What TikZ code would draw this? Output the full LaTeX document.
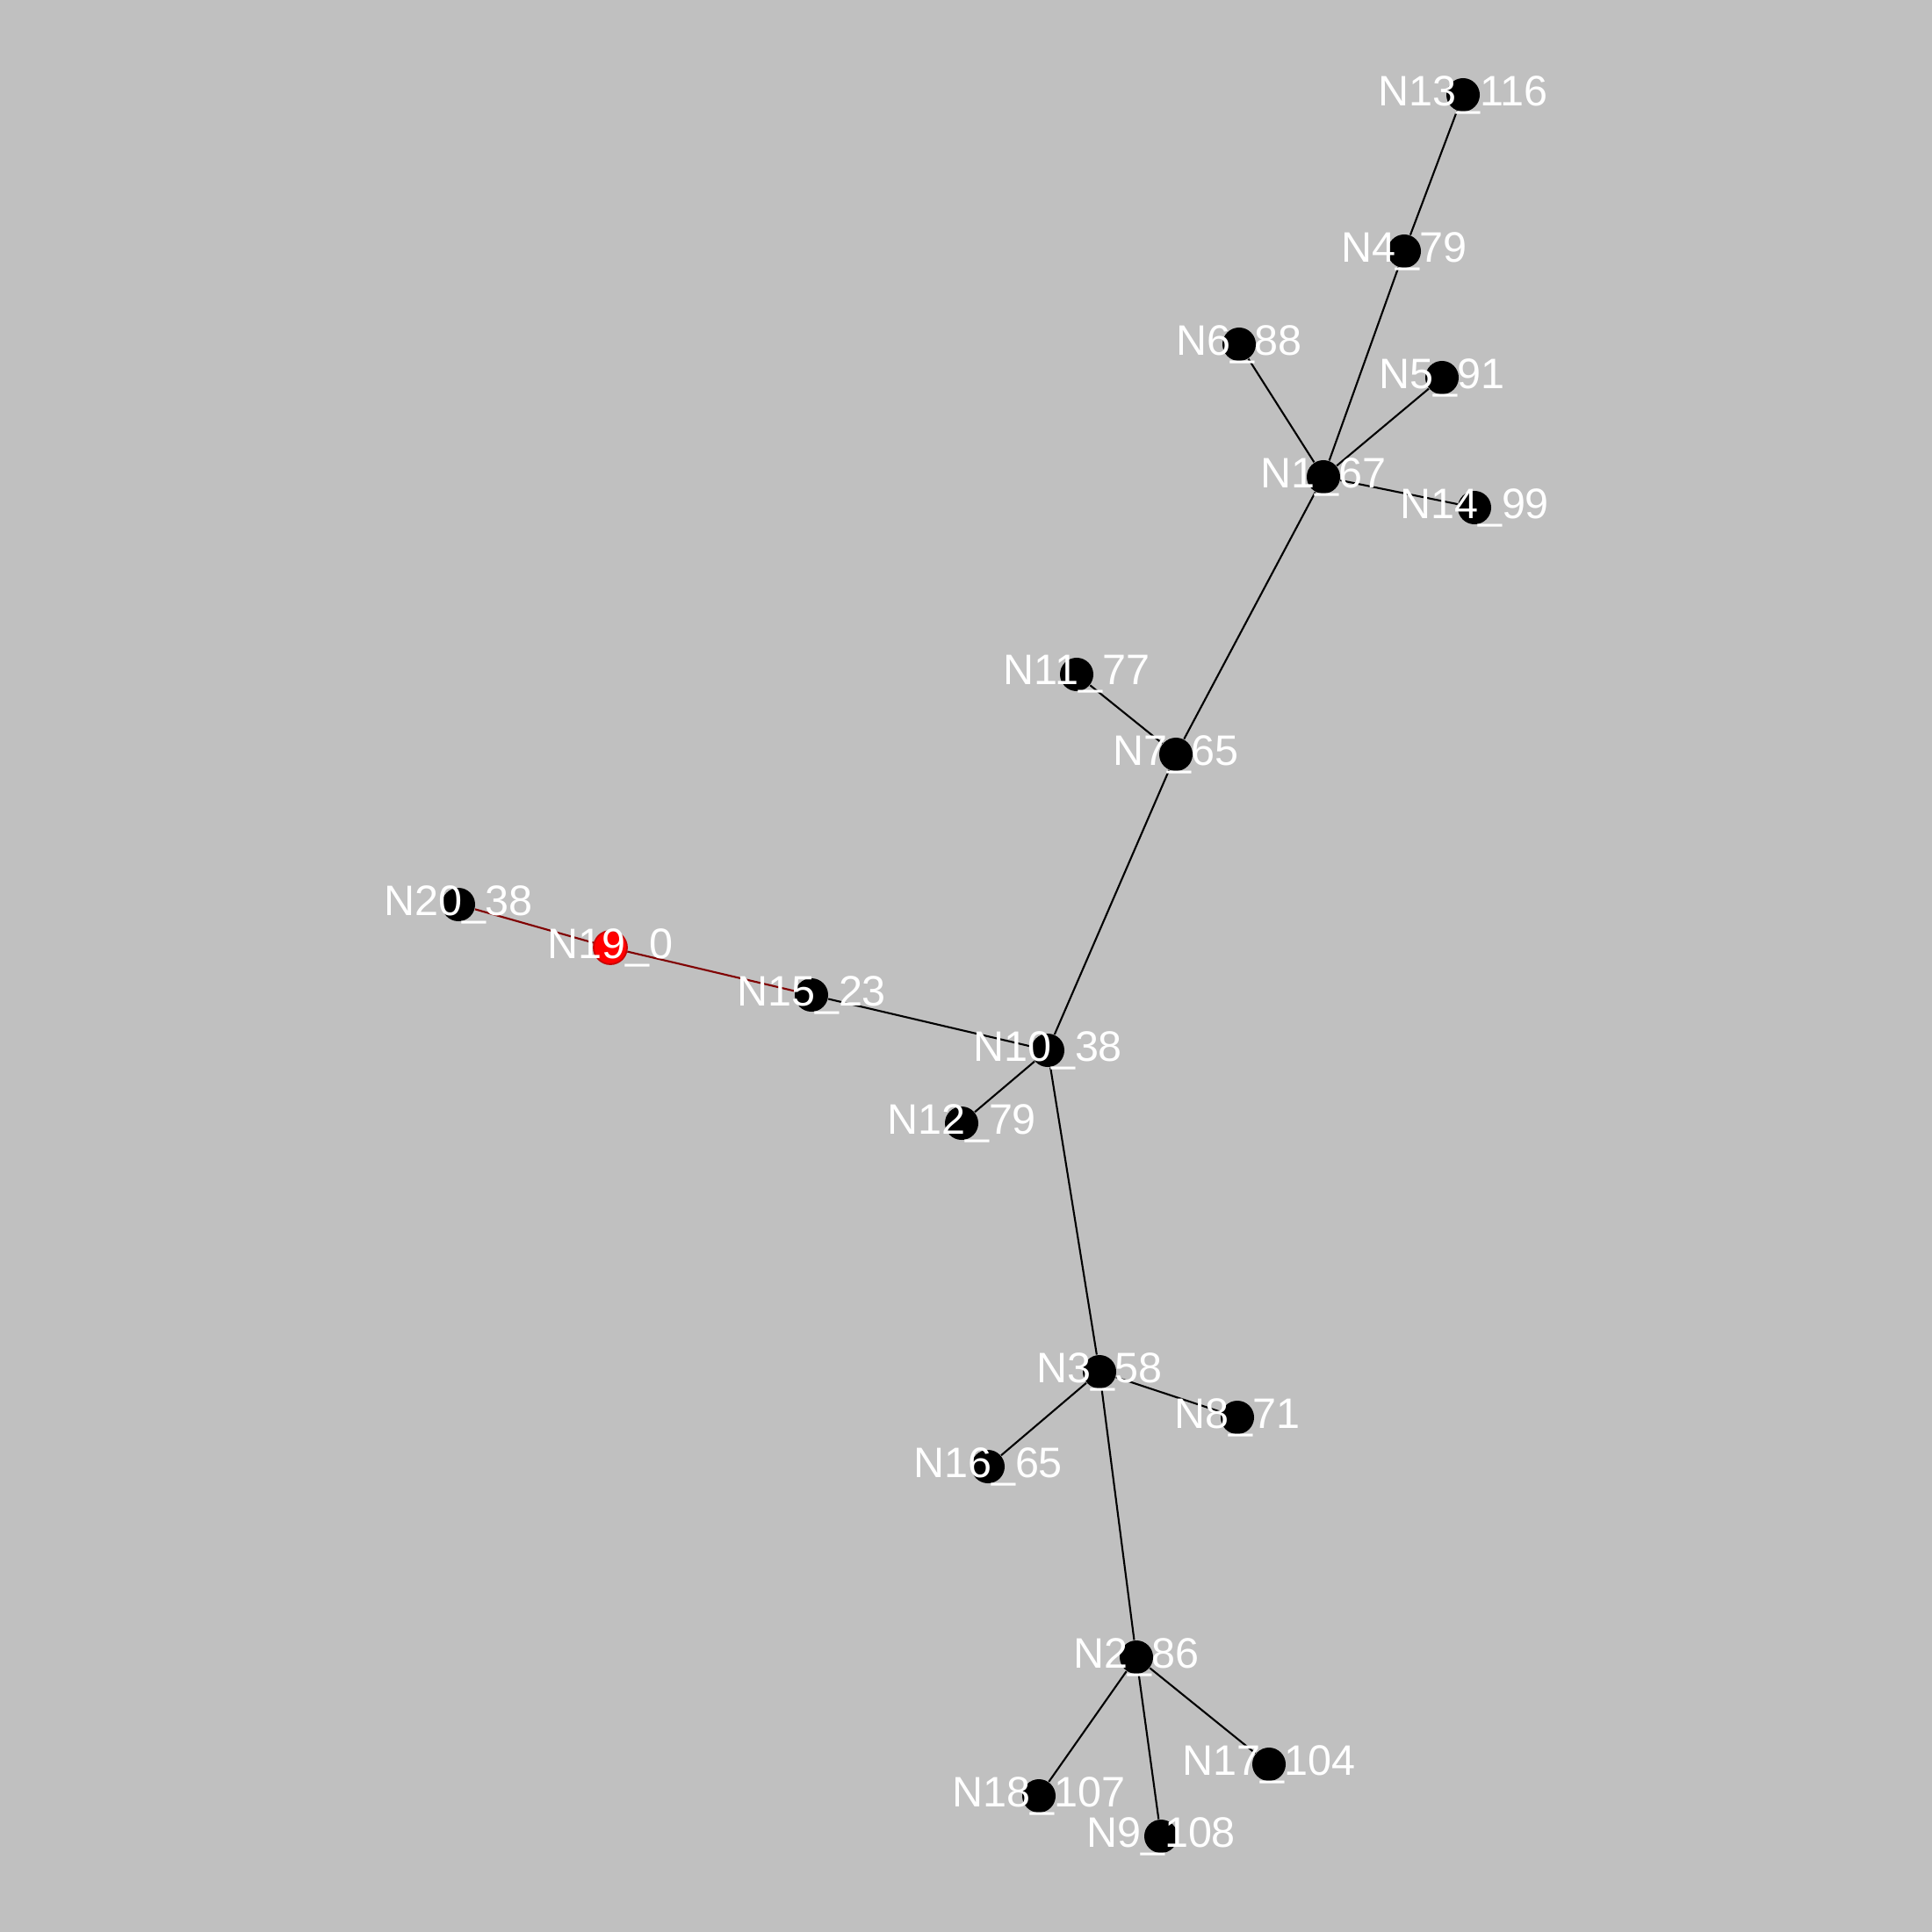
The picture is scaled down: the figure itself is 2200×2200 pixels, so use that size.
\documentclass[tikz,border=0pt]{standalone}
\usepackage{fontspec}
\setmainfont{Liberation Sans}
\usepackage{tikz}
\usetikzlibrary{positioning}
\usetikzlibrary{calc}
\definecolor{canvasgray}{RGB}{192,192,192}
\definecolor{rootred}{RGB}{255,0,0}
\definecolor{rootrim}{RGB}{200,0,0}
\definecolor{pathred}{RGB}{128,0,0}
\pgfdeclarelayer{edges}
\pgfsetlayers{edges,main}

\begin{document}
\begin{tikzpicture}[x=0.01cm, y=-0.01cm, vertex/.style = {circle, fill=black, inner sep=0pt, minimum size=0.38cm}, root/.style = {vertex, fill=rootred, draw=rootrim, line width=0.5pt}, lbl/.style = {text=white, font=\fontsize{13.8}{16}\selectfont, inner sep=0pt}, edge/.style = {line width=0.6pt, black}, rootedge/.style = {edge, pathred}]
	\begin{pgfonlayer}{edges}
		\fill[canvasgray] (0,0) rectangle (2200,2200);
	\end{pgfonlayer}
	\useasboundingbox (0,0) rectangle (2200,2200);
	\node[vertex, label={[lbl]center:N13\_116}] (13) at (1666,108) {};
	\node[vertex, label={[lbl]center:N4\_79}] (4) at (1599,286) {};
	\node[vertex, label={[lbl]center:N6\_88}] (6) at (1411,392) {};
	\node[vertex, label={[lbl]center:N5\_91}] (5) at (1642,430) {};
	\node[vertex, label={[lbl]center:N1\_67}] (1) at (1507,543) {};
	\node[vertex, label={[lbl]center:N14\_99}] (14) at (1679,578) {};
	\node[vertex, label={[lbl]center:N11\_77}] (11) at (1226,768) {};
	\node[vertex, label={[lbl]center:N7\_65}] (7) at (1339,859) {};
	\node[vertex, label={[lbl]center:N20\_38}] (20) at (522,1030) {};
	\node[root, label={[lbl]center:N19\_0}] (19) at (695,1079) {};
	\node[vertex, label={[lbl]center:N15\_23}] (15) at (924,1133) {};
	\node[vertex, label={[lbl]center:N10\_38}] (10) at (1193,1196) {};
	\node[vertex, label={[lbl]center:N12\_79}] (12) at (1095,1279) {};
	\node[vertex, label={[lbl]center:N3\_58}] (3) at (1252,1562) {};
	\node[vertex, label={[lbl]center:N8\_71}] (8) at (1409,1614) {};
	\node[vertex, label={[lbl]center:N16\_65}] (16) at (1125,1670) {};
	\node[vertex, label={[lbl]center:N2\_86}] (2) at (1294,1887) {};
	\node[vertex, label={[lbl]center:N17\_104}] (17) at (1445,2009) {};
	\node[vertex, label={[lbl]center:N18\_107}] (18) at (1183,2045) {};
	\node[vertex, label={[lbl]center:N9\_108}] (9) at (1322,2091) {};
	\begin{pgfonlayer}{edges}
		\draw[rootedge] (20) -- (19);
		\draw[rootedge] (19) -- (15);
		\draw[edge] (15) -- (10);
		\draw[edge] (10) -- (12);
		\draw[edge] (10) -- (7);
		\draw[edge] (7) -- (11);
		\draw[edge] (7) -- (1);
		\draw[edge] (1) -- (6);
		\draw[edge] (1) -- (4);
		\draw[edge] (4) -- (13);
		\draw[edge] (1) -- (5);
		\draw[edge] (1) -- (14);
		\draw[edge] (10) -- (3);
		\draw[edge] (3) -- (8);
		\draw[edge] (3) -- (16);
		\draw[edge] (3) -- (2);
		\draw[edge] (2) -- (17);
		\draw[edge] (2) -- (18);
		\draw[edge] (2) -- (9);
	\end{pgfonlayer}
\end{tikzpicture}
\end{document}
